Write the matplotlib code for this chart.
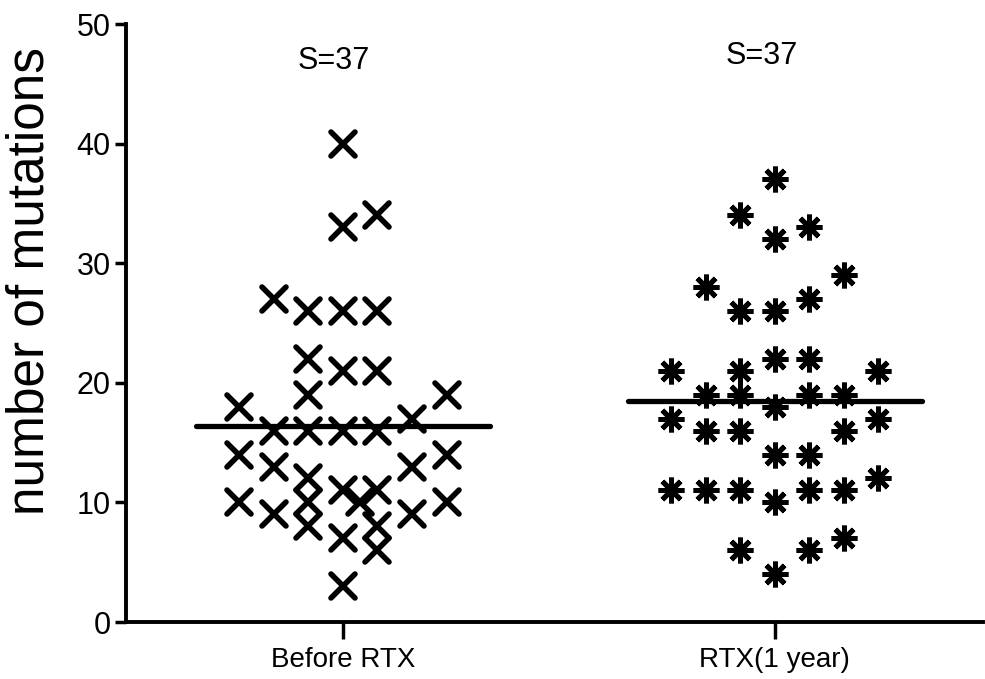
import numpy as np
import matplotlib
matplotlib.use('Agg')
from matplotlib import pyplot as plt
from matplotlib.markers import MarkerStyle

plt.rcParams['font.family'] = ['Liberation Sans', 'DejaVu Sans']

groups = ['Before RTX', 'RTX(1 year)']
group_notes = ['S=37', 'S=37']

# mutation counts per patient
before = [40, 33, 34, 27, 26, 26, 26, 22, 21, 21, 19, 19, 18, 17, 16, 16, 16, 16,
          14, 14, 13, 13, 12, 11, 11, 10, 10, 10, 10, 9, 9, 8, 7, 8, 6, 3]
after = [37, 34, 33, 32, 29, 28, 27, 26, 26, 22, 22, 21, 21, 21, 19, 19, 19, 19,
         18, 17, 17, 16, 16, 16, 14, 14, 12, 11, 11, 11, 11, 11, 10, 7, 6, 6, 4]

# column slot of each point inside its group (scatter spread)
before_slot = [0, 0, 1, -2, -1, 0, 1, -1, 0, 1, -1, 3, -3, 2, -2, -1, 0, 1,
               -3, 3, -2, 2, -1, 0, 1, -1, 0.5, -3, 3, -2, 2, -1, 0, 1, 1, 0]
after_slot = [0, -1, 1, 0, 2, -2, 1, -1, 0, 0, 1, -3, -1, 3, -2, -1, 1, 2,
              0, -3, 3, -2, -1, 2, 0, 1, 3, -3, -2, -1, 1, 2, 0, 2, -1, 1, 0]

slot_w = 0.08
half_line = 0.34

fig = plt.figure(figsize=(9.85, 6.79), dpi=100)
ax = fig.add_axes([126 / 985, 57 / 679, 857 / 985, 598 / 679])

cross = MarkerStyle('x', capstyle='round')
star = MarkerStyle((8, 2, 0), capstyle='round')

note_pos = [(-0.02, 46.9), (0.97, 47.3)]

for i, (vals, slots, mk, ms, mew) in enumerate([(before, before_slot, cross, 17.5, 4.0),
                                                 (after, after_slot, star, 18.5, 3.6)]):
    xs = i + np.array(slots) * slot_w
    ax.plot(xs, vals, linestyle='none', marker=mk, markersize=ms,
            markeredgewidth=mew, color='black')
    m = np.mean(vals)
    ax.plot([i - half_line, i + half_line], [m, m], color='black', lw=3.8,
            solid_capstyle='round')
    ax.text(note_pos[i][0], note_pos[i][1], group_notes[i], ha='center',
            va='center', fontsize=22)

ax.set_xlim(-0.502, 1.482)
ax.set_ylim(0, 50)
ax.set_yticks([0, 10, 20, 30, 40, 50])
ax.set_xticks([0, 1])
ax.set_xticklabels(groups)
ax.tick_params(axis='y', labelsize=22, width=2.5, length=8, pad=3)
ax.tick_params(axis='x', labelsize=20, width=2.5, length=12, pad=6)
ax.set_ylabel('number of mutations', fontsize=37)
ax.yaxis.set_label_coords(-0.084, 0.57)

for side in ['top', 'right']:
    ax.spines[side].set_visible(False)
for side in ['left', 'bottom']:
    ax.spines[side].set_linewidth(2.8)

fig.savefig('out.png', dpi=100)
